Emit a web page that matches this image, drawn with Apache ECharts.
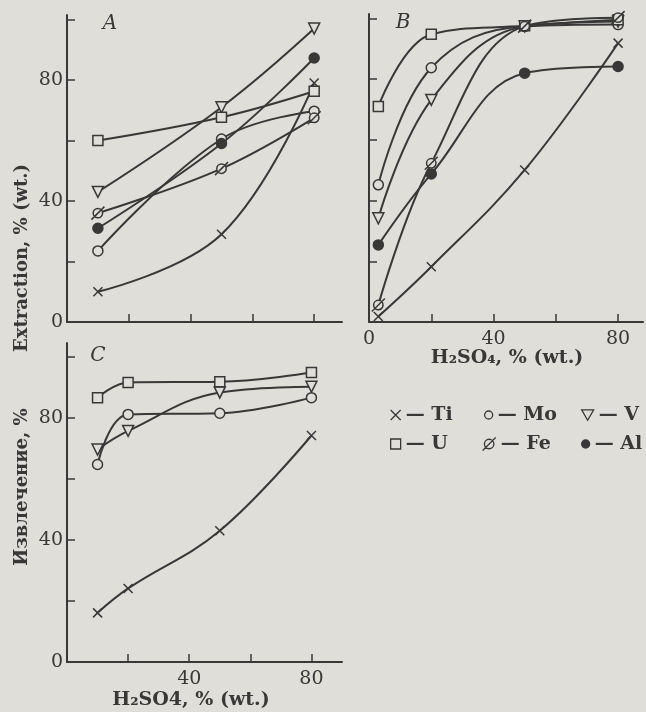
<!DOCTYPE html>
<html>
<head>
<meta charset="utf-8">
<script src="https://cdn.jsdelivr.net/npm/echarts@6/dist/echarts.min.js"></script>
<style>
  html, body { margin: 0; padding: 0; background: #dfded9; }
  #chart { width: 646px; height: 712px; }
</style>
</head>
<body>
<div id="chart"></div>
<script>
// panel A: 3 acid concentrations
const xA = [10, 50, 80]
const aTi = [10, 29, 79]
const aMo = [23.5, 60.5, 69.7]
const aV = [43, 71, 97]
const aU = [60, 67.7, 76.3]
const aFe = [36, 50.7, 67.5]
const aAl = [31, 59, 87.3]

// panel B
const xB = [3, 20, 50, 80]
const bTi = [1.8, 18.2, 50.1, 91.9]
const bMo = [45.2, 83.8, 97.4, 98]
const bV = [34.2, 73.2, 97.4, 99]
const bU = [71, 94.8, 97.6, 99.6]
const bFe = [5.6, 52.3, 97.5, 100.3]
const bAl = [25.4, 48.8, 82, 84.2]

// panel C (only Ti, Mo, V, U)
const xC = [10, 20, 50, 80]
const cTi = [16.1, 24.1, 43, 74.2]
const cMo = [64.7, 81.1, 81.5, 86.6]
const cV = [69.6, 75.7, 88.3, 90.2]
const cU = [86.6, 91.6, 91.8, 94.8]

// tick labels
const yTicks = [0, 20, 40, 60, 80, 100]
const yLabels = [0, 40, 80]
const xTicks = [20, 40, 60, 80]
const xLabelsB = [0, 40, 80]
const xLabelsC = [40, 80]

const INK = '#383838'
const BG = '#dfded9'
const FONT = '"DejaVu Serif", serif'

const chart = echarts.init(document.getElementById('chart'))

// маркеры как в оригинале
const CROSS = 'path://M0,0L10,10M0,10L10,0'
const TRI = 'path://M0,0L10,0L5,8.7Z'
const SLASHED = 'path://M10,6A4,4 0 1,1 2,6A4,4 0 1,1 10,6ZM0.5,11.5L11.5,0.5'
const marks = {
  Ti: { symbol: CROSS, size: 9, fill: BG, legend: 10 },
  Mo: { symbol: 'circle', size: 10, fill: BG, legend: 8 },
  V: { symbol: TRI, size: 11, fill: BG, legend: 12 },
  U: { symbol: 'rect', size: 10, fill: BG, legend: 10 },
  Fe: { symbol: SLASHED, size: 13, fill: BG, legend: 13 },
  Al: { symbol: 'circle', size: 10, fill: INK, legend: 8 }
}

const line = (name, xs, ys, idx) => ({
  type: 'line',
  name: name,
  xAxisIndex: idx,
  yAxisIndex: idx,
  data: xs.map((x, i) => [x, ys[i]]),
  smooth: 0.4,
  symbol: marks[name].symbol,
  symbolSize: marks[name].size,
  itemStyle: { color: marks[name].fill, borderColor: INK, borderWidth: 1.5 },
  lineStyle: { color: INK, width: 2 }
})

const axisLine = { lineStyle: { color: INK, width: 2 } }
const axisTick = (vals) => ({ inside: true, length: 8, customValues: vals, lineStyle: { color: INK, width: 1.5 } })
const label = (vals, margin) => vals
  ? { customValues: vals, color: INK, fontFamily: FONT, fontSize: 19, margin: margin }
  : { show: false }

const xAxis = (gi, max, labels) => ({
  type: 'value', gridIndex: gi, min: 0, max: max,
  axisLine: axisLine, axisTick: axisTick(xTicks), axisLabel: label(labels, 8),
  splitLine: { show: false }
})
const yAxis = (gi, max, labels) => ({
  type: 'value', gridIndex: gi, min: 0, max: max,
  axisLine: axisLine, axisTick: axisTick(yTicks), axisLabel: label(labels, 4),
  splitLine: { show: false }
})

// легенда: 3 колонки x 2 строки
const legendCells = [
  ['Ti', 390, 0], ['Mo', 484, 0], ['V', 581, 0],
  ['U', 390, 1], ['Fe', 482, 1], ['Al', 581, 1]
]
const legendIcons = { Ti: CROSS, Mo: 'circle', V: TRI, U: 'rect', Fe: SLASHED, Al: 'circle' }
const rowCenter = [415, 444]

const text = (str, x, y, opts) => ({
  type: 'text', x: x, y: y, rotation: opts.rotation || 0,
  style: Object.assign({
    text: str, fill: INK, fontFamily: FONT, fontSize: 18, fontWeight: 'bold',
    align: 'center', verticalAlign: 'middle'
  }, opts.style || {})
})

chart.setOption({
  backgroundColor: BG,
  animation: false,
  grid: [
    { left: 67, top: 15, width: 275, height: 307 },
    { left: 369, top: 14, width: 274, height: 308 },
    { left: 67, top: 343, width: 275, height: 319 }
  ],
  xAxis: [xAxis(0, 89, null), xAxis(1, 88, xLabelsB), xAxis(2, 90, xLabelsC)],
  yAxis: [yAxis(0, 101.5, yLabels), yAxis(1, 101.5, null), yAxis(2, 104.5, yLabels)],
  legend: legendCells.map(([name, left, row]) => ({
    left: left, top: rowCenter[row] - 11, padding: 0,
    height: 22,
    selectedMode: false,
    itemWidth: marks[name].legend, itemHeight: marks[name].legend,
    data: [{
      name: name, icon: legendIcons[name],
      itemStyle: { color: marks[name].fill, borderColor: INK, borderWidth: 1.3 }
    }],
    formatter: '— {name}',
    textStyle: { color: INK, fontFamily: FONT, fontSize: 19, fontWeight: 'bold', lineHeight: 22 }
  })),
  graphic: [
    text('A', 110, 24, { style: { fontStyle: 'italic', fontWeight: 'normal', fontSize: 20 } }),
    text('B', 403, 23, { style: { fontStyle: 'italic', fontWeight: 'normal', fontSize: 20 } }),
    text('C', 98, 356, { style: { fontStyle: 'italic', fontWeight: 'normal', fontSize: 20 } }),
    text('Extraction, % (wt.)', 22, 258, { rotation: Math.PI / 2 }),
    text('Извлечение, %', 22, 487, { rotation: Math.PI / 2 }),
    text('H₂SO₄, % (wt.)', 507, 358, { style: { fontSize: 19 } }),
    text('H₂SO4, % (wt.)', 191, 700, { style: { fontSize: 19 } })
  ],
  series: [
    line('Ti', xA, aTi, 0), line('Mo', xA, aMo, 0), line('V', xA, aV, 0),
    line('U', xA, aU, 0), line('Fe', xA, aFe, 0), line('Al', xA, aAl, 0),
    line('Ti', xB, bTi, 1), line('Mo', xB, bMo, 1), line('V', xB, bV, 1),
    line('U', xB, bU, 1), line('Fe', xB, bFe, 1), line('Al', xB, bAl, 1),
    line('Ti', xC, cTi, 2), line('Mo', xC, cMo, 2), line('V', xC, cV, 2),
    line('U', xC, cU, 2)
  ]
})

window.addEventListener('resize', () => chart.resize())
</script>
</body>
</html>
